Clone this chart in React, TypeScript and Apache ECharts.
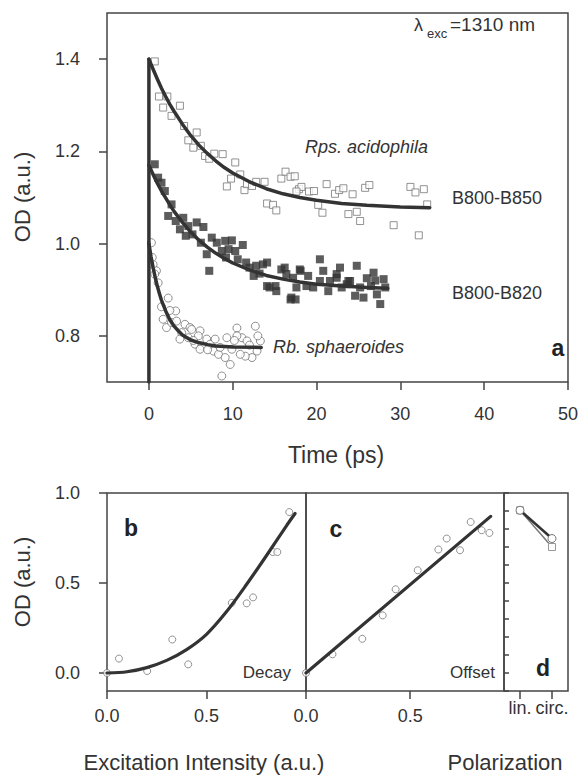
import React, { useEffect, useRef } from "react";
import * as echarts from "echarts";

// ---------- Panel a: transient absorption ----------
const timeTicks = [0, 10, 20, 30, 40, 50];
const odTicksA = [0.8, 1.0, 1.2, 1.4];

const rpsPoints: [number, number][] = [
  [0.7, 1.395], [1.2, 1.319], [2.2, 1.319], [1.7, 1.295], [2.7, 1.277], [3.7, 1.299],
  [4.2, 1.255], [5.7, 1.241], [4.7, 1.224], [5.3, 1.208], [6.2, 1.212], [6.7, 1.19],
  [7.2, 1.184], [7.8, 1.195], [8.8, 1.194], [10.3, 1.176], [9.8, 1.141], [9.3, 1.124],
  [10.9, 1.15], [11.4, 1.116], [11.7, 1.129], [12.3, 1.125], [12.8, 1.134], [13.8, 1.134],
  [15.8, 1.141], [16.3, 1.156], [16.9, 1.145], [17.4, 1.146], [17.9, 1.118], [14.1, 1.087],
  [14.8, 1.084], [15.2, 1.072], [18.2, 1.123], [17.6, 1.113], [19.1, 1.113], [19.7, 1.114],
  [20.2, 1.084], [20.7, 1.067], [21.2, 1.129], [22.2, 1.108], [22.7, 1.116], [23.2, 1.12],
  [24.3, 1.107], [23.8, 1.064], [24.8, 1.069], [25.2, 1.049], [25.8, 1.121], [26.3, 1.127],
  [29.2, 1.04], [31.2, 1.123], [31.8, 1.111], [32.8, 1.118], [33.2, 1.085], [32.2, 1.018],
];

const b820Points: [number, number][] = [
  [0.7, 1.172], [1.1, 1.143], [1.5, 1.132], [1.9, 1.114], [2.7, 1.085], [2.3, 1.06],
  [3.2, 1.049], [4.1, 1.056], [3.7, 1.031], [4.7, 1.038], [5.7, 1.046], [6.5, 1.036],
  [4.4, 1.017], [5.2, 1.02], [6.2, 1.002], [6.9, 0.977], [7.5, 1.013], [8.1, 1.002],
  [9.1, 1.006], [9.9, 1.007], [8.7, 0.984], [9.5, 0.988], [10.3, 0.984], [11.2, 0.997],
  [9.2, 0.97], [10.6, 0.966], [11.6, 0.959], [12.0, 0.948], [12.8, 0.952], [13.6, 0.955],
  [12.5, 0.93], [13.2, 0.935], [14.1, 0.908], [15.1, 0.908], [15.8, 0.944], [16.4, 0.934],
  [17.2, 0.926], [17.6, 0.905], [7.2, 0.941], [14.1, 0.959], [16.2, 0.948], [18.0, 0.944],
  [20.4, 0.966], [22.8, 0.948], [24.8, 0.952], [26.8, 0.937], [14.4, 0.905], [15.2, 0.897],
  [17.0, 0.883], [17.5, 0.879], [16.9, 0.879], [18.8, 0.908], [19.6, 0.905], [20.4, 0.919],
  [21.4, 0.897], [22.4, 0.926], [23.8, 0.919], [25.2, 0.905], [25.6, 0.883], [26.5, 0.908],
  [27.2, 0.89], [27.6, 0.869], [28.2, 0.905], [28.0, 0.923], [18.1, 0.941], [20.8, 0.941],
  [21.6, 0.919], [22.4, 0.934], [23.6, 0.912], [24.6, 0.887], [24.0, 0.919], [19.0, 0.93],
  [23.0, 0.905], [26.0, 0.925], [27.0, 0.92],
];

const rbPoints: [number, number][] = [
  [0.3, 1.002], [0.5, 0.955], [0.9, 0.941], [1.1, 0.915], [0.7, 0.934], [2.3, 0.882],
  [1.5, 0.863], [3.2, 0.854], [1.7, 0.836], [2.1, 0.818], [2.7, 0.829], [3.3, 0.832],
  [4.3, 0.825], [4.9, 0.818], [3.9, 0.807], [5.1, 0.814], [6.1, 0.811], [3.7, 0.793],
  [4.7, 0.796], [5.9, 0.8], [6.9, 0.793], [5.5, 0.782], [6.3, 0.778], [7.3, 0.782],
  [6.1, 0.771], [7.7, 0.767], [8.3, 0.76], [9.1, 0.753], [9.7, 0.738], [8.7, 0.713],
  [9.3, 0.796], [10.5, 0.817], [11.1, 0.796], [10.5, 0.8], [11.7, 0.789], [12.7, 0.821],
  [13.3, 0.789], [12.9, 0.767], [12.3, 0.753], [11.5, 0.756], [10.9, 0.76], [9.9, 0.771],
  [7.9, 0.793], [8.5, 0.775], [0.4, 0.97], [2.5, 0.855], [5.3, 0.79], [7.0, 0.77],
  [10.2, 0.79], [12.0, 0.78], [13.0, 0.8],
];

const rpsFitT = [0, 0.5, 1, 1.5, 2, 2.5, 3, 4, 5, 6, 7, 8, 9, 10, 12, 14, 16, 18, 20, 23, 26, 30, 33.5];
const rpsFitOD = [1.4, 1.378, 1.357, 1.337, 1.319, 1.302, 1.287, 1.259, 1.234, 1.213, 1.195, 1.179, 1.165, 1.153, 1.134, 1.119, 1.108, 1.1, 1.094, 1.087, 1.083, 1.0795, 1.078];

const b820FitT = [0, 0.5, 1, 1.5, 2, 2.5, 3, 4, 5, 6, 7, 8, 9, 10, 12, 14, 16, 18, 20, 23, 26, 28.5];
const b820FitOD = [1.17, 1.15, 1.131, 1.114, 1.099, 1.084, 1.07, 1.046, 1.025, 1.007, 0.992, 0.979, 0.968, 0.958, 0.943, 0.931, 0.923, 0.917, 0.912, 0.908, 0.905, 0.903];

const rbFitT = [0, 0.25, 0.5, 0.75, 1, 1.25, 1.5, 2, 2.5, 3, 3.5, 4, 5, 6, 7, 8, 10, 13.4];
const rbFitOD = [1.0, 0.972, 0.948, 0.927, 0.908, 0.892, 0.877, 0.854, 0.835, 0.821, 0.811, 0.802, 0.791, 0.785, 0.781, 0.778, 0.776, 0.775];

const riseT = [0, 0];
const riseOD = [0.7, 1.4];

// ---------- Panels b, c, d ----------
const intensityTicks = [0, 0.5];
const odTicksB = [0, 0.5, 1.0];

const decayPoints: [number, number][] = [
  [0, 0], [0.06, 0.08], [0.202, 0.011], [0.328, 0.186], [0.408, 0.048],
  [0.627, 0.39], [0.702, 0.387], [0.734, 0.42], [0.833, 0.672], [0.856, 0.672], [0.916, 0.894],
];
const decayFitX = [0, 0.1, 0.2, 0.3, 0.4, 0.5, 0.6, 0.7, 0.8, 0.9, 0.945];
const decayFitY = [0, 0.007, 0.03, 0.07, 0.13, 0.215, 0.34, 0.49, 0.65, 0.815, 0.886];

const offsetPoints: [number, number][] = [
  [0, 0], [0.127, 0.104], [0.27, 0.19], [0.368, 0.32], [0.43, 0.465], [0.536, 0.571],
  [0.635, 0.686], [0.675, 0.747], [0.739, 0.682], [0.79, 0.839], [0.843, 0.793], [0.88, 0.778],
];
const offsetFitX = [0, 0.886];
const offsetFitY = [0, 0.87];

const polarCategories = ["lin.", "circ."];
const polarCircles = [0.904, 0.747];
const polarSquares = [0.904, 0.7];

const zip = (a: number[], b: number[]) => a.map((v, i) => [v, b[i]]);

const FONT = "'Liberation Sans', Arial, Helvetica, sans-serif";
const INK = "#333";
const FRAME = "#444";

export default function App() {
  const ref = useRef<HTMLDivElement>(null);

  useEffect(() => {
    if (!ref.current) return;
    const chart = echarts.init(ref.current, undefined, { renderer: "svg" });

    const axisLineOff = { show: false, onZero: false };
    const tickStyle = { lineStyle: { color: FRAME, width: 1.5 } };
    const fmt1 = (v: number) => v.toFixed(1);

    const lineSeries = (xi: number, data: number[][], width = 3.5, smooth: any = false) => ({
      type: "line",
      xAxisIndex: xi,
      yAxisIndex: xi,
      data,
      showSymbol: false,
      smooth,
      lineStyle: { color: INK, width, join: "round", cap: "round" },
      z: 5,
      silent: true,
    });

    const option: any = {
      animation: false,
      textStyle: { fontFamily: FONT },
      grid: [
        { left: 107, top: 13, width: 461, height: 369, show: true, borderColor: FRAME, borderWidth: 1.5, backgroundColor: "transparent" },
        { left: 107, top: 493, width: 199, height: 198, show: true, borderColor: FRAME, borderWidth: 1.5, backgroundColor: "transparent" },
        { left: 306, top: 493, width: 198, height: 198, show: true, borderColor: FRAME, borderWidth: 1.5, backgroundColor: "transparent" },
        { left: 504, top: 493, width: 64, height: 198, show: true, borderColor: FRAME, borderWidth: 1.5, backgroundColor: "transparent" },
      ],
      xAxis: [
        {
          type: "value", gridIndex: 0, min: -5, max: 50,
          axisLine: axisLineOff, splitLine: { show: false },
          axisTick: { show: true, length: 8, customValues: timeTicks, ...tickStyle },
          axisLabel: { customValues: timeTicks, color: INK, fontSize: 18, margin: 23, fontFamily: FONT },
        },
        {
          type: "value", gridIndex: 1, min: 0, max: 1,
          axisLine: axisLineOff, splitLine: { show: false },
          axisTick: { show: true, length: 8, customValues: intensityTicks, ...tickStyle },
          axisLabel: { customValues: intensityTicks, formatter: fmt1, color: INK, fontSize: 18, margin: 16, fontFamily: FONT },
        },
        {
          type: "value", gridIndex: 2, min: 0, max: 0.95,
          axisLine: axisLineOff, splitLine: { show: false },
          axisTick: { show: true, length: 8, customValues: intensityTicks, ...tickStyle },
          axisLabel: { customValues: intensityTicks, formatter: fmt1, color: INK, fontSize: 18, margin: 16, fontFamily: FONT },
        },
        {
          type: "category", gridIndex: 3, data: polarCategories, boundaryGap: true,
          axisLine: axisLineOff, splitLine: { show: false },
          axisTick: { show: true, length: 8, alignWithLabel: true, ...tickStyle },
          axisLabel: { color: INK, fontSize: 18, margin: 8, fontFamily: FONT, interval: 0 },
        },
      ],
      yAxis: [
        {
          type: "value", gridIndex: 0, min: 0.7, max: 1.5,
          axisLine: axisLineOff, splitLine: { show: false },
          axisTick: { show: true, length: 8, customValues: odTicksA, ...tickStyle },
          axisLabel: { customValues: odTicksA, formatter: fmt1, color: INK, fontSize: 18, margin: 27, fontFamily: FONT },
        },
        {
          type: "value", gridIndex: 1, min: -0.1, max: 1.0,
          axisLine: axisLineOff, splitLine: { show: false },
          axisTick: { show: true, length: 8, customValues: odTicksB, ...tickStyle },
          axisLabel: { customValues: odTicksB, formatter: fmt1, color: INK, fontSize: 18, margin: 27, fontFamily: FONT },
        },
        {
          type: "value", gridIndex: 2, min: -0.1, max: 1.0,
          axisLine: axisLineOff, splitLine: { show: false },
          axisTick: { show: false }, axisLabel: { show: false },
        },
        {
          type: "value", gridIndex: 3, min: -0.1, max: 1.0, interval: 0.1,
          axisLine: axisLineOff, splitLine: { show: false },
          axisTick: { show: true, inside: true, length: 5, ...tickStyle },
          axisLabel: { show: false },
        },
      ],
      series: [
        {
          type: "scatter", xAxisIndex: 0, yAxisIndex: 0, data: rpsPoints,
          symbol: "rect", symbolSize: 7,
          itemStyle: { color: "#fff", borderColor: "#777", borderWidth: 1 }, z: 2,
        },
        {
          type: "scatter", xAxisIndex: 0, yAxisIndex: 0, data: b820Points,
          symbol: "rect", symbolSize: 8,
          itemStyle: { color: "#333" }, z: 3,
        },
        {
          type: "scatter", xAxisIndex: 0, yAxisIndex: 0, data: rbPoints,
          symbol: "circle", symbolSize: 8,
          itemStyle: { color: "#fff", borderColor: "#666", borderWidth: 0.9 }, z: 2,
        },
        lineSeries(0, zip(rpsFitT, rpsFitOD)),
        lineSeries(0, zip(b820FitT, b820FitOD)),
        lineSeries(0, zip(rbFitT, rbFitOD)),
        lineSeries(0, zip(riseT, riseOD)),
        {
          type: "scatter", xAxisIndex: 1, yAxisIndex: 1, data: decayPoints,
          symbol: "circle", symbolSize: 7,
          itemStyle: { color: "#fff", borderColor: "#777", borderWidth: 1 }, z: 2,
        },
        lineSeries(1, zip(decayFitX, decayFitY), 3.2, 0.3),
        {
          type: "scatter", xAxisIndex: 2, yAxisIndex: 2, data: offsetPoints,
          symbol: "circle", symbolSize: 7,
          itemStyle: { color: "#fff", borderColor: "#777", borderWidth: 1 }, z: 2,
        },
        lineSeries(2, zip(offsetFitX, offsetFitY), 3.2),
        {
          type: "line", xAxisIndex: 3, yAxisIndex: 3, data: polarSquares,
          symbol: "rect", symbolSize: 7, showSymbol: true,
          lineStyle: { color: "#777", width: 1.5 },
          itemStyle: { color: "#fff", borderColor: "#999", borderWidth: 1 }, z: 3,
        },
        {
          type: "line", xAxisIndex: 3, yAxisIndex: 3, data: polarCircles,
          symbol: "circle", symbolSize: 8, showSymbol: true,
          lineStyle: { color: INK, width: 2.5 },
          itemStyle: { color: "#fff", borderColor: "#777", borderWidth: 1 }, z: 4,
        },
      ],
      graphic: [
        { type: "text", x: 22, y: 197, rotation: Math.PI / 2, style: { text: "OD (a.u.)", fill: INK, font: `22px ${FONT}`, align: "center", verticalAlign: "middle" } },
        { type: "text", x: 22, y: 582, rotation: Math.PI / 2, style: { text: "OD (a.u.)", fill: INK, font: `22px ${FONT}`, align: "center", verticalAlign: "middle" } },
        { type: "text", x: 336, y: 455, style: { text: "Time (ps)", fill: INK, font: `23px ${FONT}`, align: "center", verticalAlign: "middle" } },
        { type: "text", x: 204, y: 762, style: { text: "Excitation Intensity (a.u.)", fill: INK, font: `22px ${FONT}`, align: "center", verticalAlign: "middle" } },
        { type: "text", x: 505, y: 762, style: { text: "Polarization", fill: INK, font: `22px ${FONT}`, align: "center", verticalAlign: "middle" } },
        { type: "text", x: 414, y: 25, style: { text: "λ", fill: INK, font: `18px ${FONT}`, align: "left", verticalAlign: "middle" } },
        { type: "text", x: 427, y: 33, style: { text: "exc", fill: INK, font: `13px ${FONT}`, align: "left", verticalAlign: "middle" } },
        { type: "text", x: 450, y: 24, style: { text: "=1310 nm", fill: INK, font: `19px ${FONT}`, align: "left", verticalAlign: "middle" } },
        { type: "text", x: 428, y: 147, style: { text: "Rps. acidophila", fill: INK, font: `italic 18px ${FONT}`, align: "right", verticalAlign: "middle" } },
        { type: "text", x: 452, y: 198, style: { text: "B800-B850", fill: INK, font: `18px ${FONT}`, align: "left", verticalAlign: "middle" } },
        { type: "text", x: 452, y: 293, style: { text: "B800-B820", fill: INK, font: `18px ${FONT}`, align: "left", verticalAlign: "middle" } },
        { type: "text", x: 273, y: 347, style: { text: "Rb. sphaeroides", fill: INK, font: `italic 18px ${FONT}`, align: "left", verticalAlign: "middle" } },
        { type: "text", x: 558, y: 348, style: { text: "a", fill: "#222", font: `bold 23px ${FONT}`, align: "center", verticalAlign: "middle" } },
        { type: "text", x: 131, y: 528, style: { text: "b", fill: "#222", font: `bold 23px ${FONT}`, align: "center", verticalAlign: "middle" } },
        { type: "text", x: 336, y: 529, style: { text: "c", fill: "#222", font: `bold 23px ${FONT}`, align: "center", verticalAlign: "middle" } },
        { type: "text", x: 543, y: 668, style: { text: "d", fill: "#222", font: `bold 23px ${FONT}`, align: "center", verticalAlign: "middle" } },
        { type: "text", x: 291, y: 672, style: { text: "Decay", fill: INK, font: `17px ${FONT}`, align: "right", verticalAlign: "middle" } },
        { type: "text", x: 495, y: 672, style: { text: "Offset", fill: INK, font: `17px ${FONT}`, align: "right", verticalAlign: "middle" } },
      ],
    };

    chart.setOption(option);
    return () => chart.dispose();
  }, []);

  return <div ref={ref} style={{ width: 581, height: 779, position: "absolute", left: 0, top: 0 }} />;
}
